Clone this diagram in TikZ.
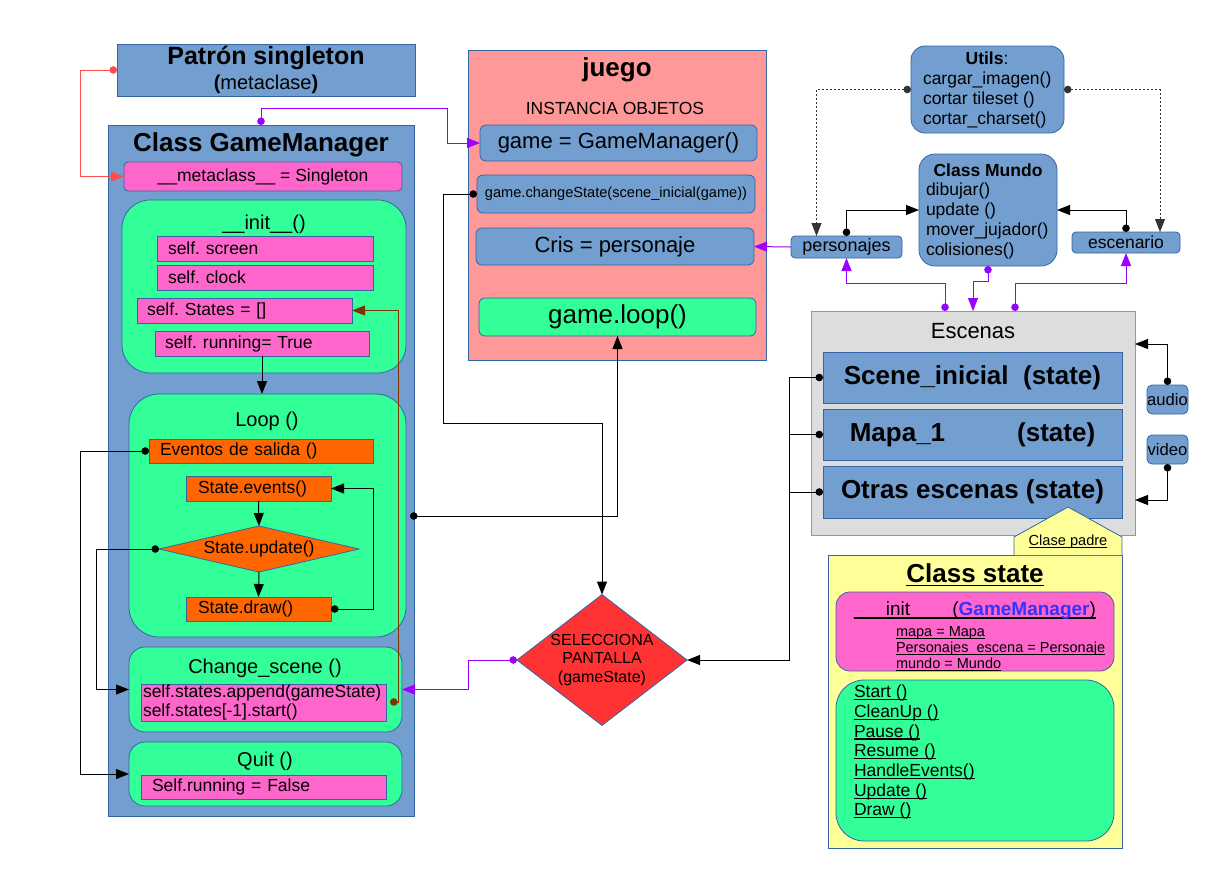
\documentclass[tikz,border=0pt]{standalone}
\usepackage{fontspec}
\setmainfont{Liberation Sans}
\usetikzlibrary{arrows.meta, positioning, shapes.geometric}

\definecolor{bluefill}{HTML}{729FCF}
\definecolor{bluedraw}{HTML}{3465A4}
\definecolor{mintfill}{HTML}{33FF99}
\definecolor{pinkfill}{HTML}{FF66CC}
\definecolor{orangefill}{HTML}{FF6600}
\definecolor{salmonfill}{HTML}{FF9999}
\definecolor{redfill}{HTML}{FF3333}
\definecolor{yellowfill}{HTML}{FFFF99}
\definecolor{grayfill}{HTML}{DDDDDD}
\definecolor{purpline}{HTML}{9900FF}
\definecolor{brownline}{HTML}{7F3300}
\definecolor{redline}{HTML}{FF4D4D}
\definecolor{gmblue}{HTML}{3333FF}

\newcommand\fsz[2]{\fontsize{#1}{#2}\selectfont}
\newsavebox\ulbox
\newcommand\ul[1]{\leavevmode\sbox\ulbox{#1}\rlap{\rule[-0.14em]{\wd\ulbox}{0.06em}}\usebox\ulbox}
\frenchspacing

\tikzset{
  box/.style={draw=bluedraw, line width=0.8pt, anchor=north west, inner sep=0pt, outer sep=0pt, align=center},
  bluebox/.style={box, fill=bluefill},
  pinkbox/.style={box, fill=pinkfill, align=left},
  orangebox/.style={box, fill=orangefill, align=left},
  salmonbox/.style={box, fill=salmonfill},
  redbox/.style={box, fill=redfill},
  yellowbox/.style={box, fill=yellowfill},
  graybox/.style={box, fill=grayfill, draw=bluefill},
  mintbox/.style={box, fill=mintfill, rounded corners=#1},
  mintbox/.default=25pt,
  plain/.style={inner sep=0pt, outer sep=0pt},
  body/.style={font={\fsz{17.5}{21}}},
  blackln/.style={draw=black, line width=1pt},
  purpln/.style={draw=purpline, line width=1pt},
  brownln/.style={draw=brownline, line width=1pt},
  redln/.style={draw=redline, line width=1pt},
  dotln/.style={draw=black!80, line width=0.9pt, dash pattern=on 2pt off 2pt},
  arr/.style={-{Triangle[length=13pt,width=10pt]}},
  dotarr/.style={{Circle[length=7.5pt]}-{Triangle[length=13pt,width=10pt]}},
  dotline/.style={{Circle[length=7.5pt]}-}
}

\begin{document}
\begin{tikzpicture}[x=1pt, y=-1pt]
  \useasboundingbox (0,0) rectangle (1230,870);

  % GameManager
  \node[bluebox, minimum width=298, minimum height=52, font={\fsz{20}{25}}] (singleton) at (117,44)
    {{\fsz{25}{25}\textbf{Patrón singleton}}\\\textbf{(}metaclase\textbf{)}};
  \node[bluebox, minimum width=306, minimum height=691] (gmgr) at (108,125) {};
  \node[plain, font={\fsz{26}{30}\bfseries}] (gmtitle) at (261,145) {Class GameManager};
  \node[pinkbox, body, rounded corners=4, align=center, minimum width=278, minimum height=29] (meta) at (124,162)
    {\_\_metaclass\_\_ = Singleton};

  \node[mintbox=28, minimum width=284, minimum height=173] (init) at (122,200) {};
  \node[plain, font={\fsz{20}{24}}] (inittitle) at (264,224) {\_\_init\_\_()};
  \node[pinkbox, body, inner xsep=11, text width=194, minimum height=25] (screen) at (157,236) {self. screen};
  \node[pinkbox, body, inner xsep=11, text width=194, minimum height=25] (clock) at (157,265) {self. clock};
  \node[pinkbox, body, inner xsep=10, text width=195, minimum height=25] (states) at (137,298) {self. States = []};
  \node[pinkbox, body, inner xsep=10, text width=194, minimum height=25] (running) at (155,331) {self. running= True};

  \node[mintbox=30, minimum width=277, minimum height=243] (loop) at (129,394) {};
  \node[plain, font={\fsz{20}{24}}] (looptitle) at (267,421) {Loop ()};
  \node[orangebox, body, inner xsep=11, text width=202, minimum height=24] (eventos) at (149,439) {Eventos de salida ()};
  \node[orangebox, body, inner xsep=12, text width=121, minimum height=25] (events) at (186,476) {State.events()};
  \node[orangebox, body, shape=diamond, anchor=center, align=center, aspect=4, minimum width=200, minimum height=46] (update) at (259,549)
    {State.update()};
  \node[orangebox, body, inner xsep=12, text width=121, minimum height=24] (stdraw) at (186,597) {State.draw()};

  \node[mintbox=16, minimum width=273, minimum height=85] (chg) at (129,647) {};
  \node[plain, font={\fsz{20}{24}}] (chgtitle) at (265,668) {Change\_scene ()};
  \node[pinkbox, font={\fsz{17.5}{19}}, inner xsep=2, text width=241, minimum height=37] (append) at (141,684)
    {self.states.append(gameState)\\self.states[-1].start()};

  \node[mintbox=16, minimum width=273, minimum height=64] (quit) at (129,742) {};
  \node[plain, font={\fsz{20}{24}}] (quittitle) at (265,761) {Quit ()};
  \node[pinkbox, body, inner xsep=11, text width=223, minimum height=24] (false) at (141,775) {Self.running = False};

  % juego
  \node[salmonbox, minimum width=298, minimum height=310] (juego) at (468,50) {};
  \node[plain, font={\fsz{26}{30}\bfseries}] (juegotitle) at (617,70) {juego};
  \node[plain, font={\fsz{17.5}{21}}] (instancia) at (615,108) {INSTANCIA OBJETOS};
  \node[bluebox, rounded corners=6, font={\fsz{22}{26}}, minimum width=277, minimum height=36] (gm) at (480,125) {game = GameManager()};
  \node[bluebox, rounded corners=6, font={\fsz{14.6}{17}}, minimum width=278, minimum height=38] (chs) at (477,175)
    {game.changeState(scene\_inicial(game))};
  \node[bluebox, rounded corners=6, font={\fsz{22}{26}}, minimum width=278, minimum height=37] (cris) at (476,228) {Cris = personaje};
  \node[mintbox=6, font={\fsz{26}{30}}, minimum width=277, minimum height=38] (gloop) at (479,298) {game.loop()};

  \node[redbox, shape=diamond, anchor=center, aspect=1.3, font={\fsz{16}{18.5}}, minimum width=163, minimum height=125] (sel) at (602,660)
    {SELECCIONA\\PANTALLA\\(gameState)};

  % utils y mundo
  \node[bluebox, rounded corners=14, minimum width=153, minimum height=87] (utils) at (911,46) {};
  \node[plain, body] (utilstitle) at (987,58) {\textbf{Utils}:};
  \node[plain, anchor=north west, align=left, font={\fsz{17.5}{20}}] (utilsbody) at (923,72)
    {cargar\_imagen()\\cortar tileset ()\\cortar\_charset()};
  \node[bluebox, rounded corners=16, minimum width=138, minimum height=112] (mundo) at (919,154) {};
  \node[plain, body] (mundotitle) at (988,170) {\textbf{Class Mundo}};
  \node[plain, anchor=north west, align=left, font={\fsz{17.5}{20}}] (mundobody) at (926,183)
    {dibujar()\\update ()\\mover\_jujador()\\colisiones()};
  \node[bluebox, rounded corners=4, font={\fsz{18}{21}}, minimum width=111, minimum height=22] (personajes) at (791,236) {personajes};
  \node[bluebox, rounded corners=4, font={\fsz{17.5}{21}}, minimum width=108, minimum height=21] (escenario) at (1072,232) {escenario};

  % escenas
  \node[graybox, minimum width=324, minimum height=224] (escenas) at (811,311) {};
  \node[plain, font={\fsz{22}{26}}] (escenastitle) at (973,331) {Escenas};
  \node[bluebox, font={\fsz{26}{30}\bfseries}, minimum width=299, minimum height=51] (scene) at (823,352) {Scene\_inicial~~(state)};
  \node[bluebox, font={\fsz{26}{30}\bfseries}, minimum width=299, minimum height=51] (mapa) at (823,409) {Mapa\_1\hspace{72pt}(state)};
  \node[bluebox, font={\fsz{26}{30}\bfseries}, minimum width=299, minimum height=52] (otras) at (823,466) {Otras escenas (state)};
  \node[bluebox, rounded corners=5, font={\fsz{16.6}{20}}, minimum width=41, minimum height=29] (audio) at (1147,385) {audio};
  \node[bluebox, rounded corners=5, font={\fsz{16.6}{20}}, minimum width=41, minimum height=29] (video) at (1147,435) {video};

  % class state
  \node[yellowbox, minimum width=294, minimum height=293] (state) at (828,555) {};
  \filldraw[fill=yellowfill, draw=bluedraw, line width=0.8pt] (1014,555) -- (1014,537) -- (1068,507) -- (1122,537) -- (1122,555);
  \node[plain, font={\fsz{14.6}{17}}] (padre) at (1068,542) {\ul{Clase padre}};
  \node[plain, font={\fsz{26}{30}\bfseries}] (statetitle) at (975,575) {\ul{Class state}};
  \node[pinkbox, rounded corners=14, minimum width=278, minimum height=79] (stinit) at (836,592) {};
  \node[plain, font={\fsz{19}{22}}] (stinittitle) at (975,611)
    {\ul{\_\_\_init\_\_\_\ \ (\textbf{\color{gmblue}GameManager})}};
  \node[plain, anchor=north west, align=left, font={\fsz{14.5}{16}}] (stinitbody) at (896,627)
    {\ul{mapa = Mapa}\\\ul{Personajes\_escena = Personaje}\\\ul{mundo = Mundo}};
  \node[mintbox=28, minimum width=278, minimum height=161] (methods) at (836,680) {};
  \node[plain, anchor=north west, align=left, font={\fsz{17.5}{19.7}}] (methodsbody) at (854,685)
    {\ul{Start ()}\\\ul{CleanUp ()}\\\ul{Pause ()}\\\ul{Resume ()}\\
     \ul{HandleEvents()}\\\ul{Update ()}\\\ul{Draw ()}};

  % conectores
  \draw[redln, dotarr] (singleton.west) -- ++(-37,0) |- (meta.west);
  \draw[purpln, dotarr] (gmgr.north) -- ++(0,-17) -| ([xshift=-33pt]gm.west) -- (gm.west);
  \draw[blackln, dotarr] (chs.west) -- ++(-34,0) -- ++(0,229) -| (sel.north);
  \coordinate (gmout) at (410,516);
  \draw[blackln, dotarr] (gmout) -| (gloop.south);
  \coordinate (chgout) at (390,702);
  \draw[brownln, dotarr] (chgout) -- ++(8,0) |- (states.east);
  \draw[blackln, dotarr] (eventos.west) -- ++(-69,0) |- (quit.west);
  \draw[blackln, dotarr] (update.west) -- ++(-63,0) |- (chg.west);
  \draw[blackln, arr] (events.south) -- (update.north);
  \draw[blackln, arr] (update.south) -- (stdraw.north);
  \draw[blackln, dotarr] (stdraw.east) -- ++(42,0) |- (events.east);
  \draw[blackln, arr] (running.south) -- (running.south |- loop.north);
  \draw[purpln, dotarr] (sel.west) -- ++(-48,0) |- (chg.east);
  \draw[blackln, dotarr] (scene.west) -- ++(-34,0) |- (sel.east);
  \draw[blackln, dotline] (mapa.west) -- ++(-34,0);
  \draw[blackln, dotline] (otras.west) -- ++(-34,0);
  \draw[dotln, dotarr] (utils.west) -| ([xshift=-30pt]personajes.north);
  \draw[dotln, dotarr] (utils.east) -| ([xshift=34pt]escenario.north);
  \draw[blackln, dotarr] (personajes.north) |- (mundo.west);
  \draw[blackln, dotarr] (escenario.north) |- (mundo.east);
  \draw[purpln, arr] (personajes.west) -- (cris.east);
  \draw[purpln, dotarr] ([xshift=-28pt]escenas.north) -- ++(0,-28) -| (personajes.south);
  \draw[purpln, dotarr] ([xshift=42pt]escenas.north) -- ++(0,-28) -| (escenario.south);
  \draw[purpln, dotarr] (mundo.south) -- ++(0,15) -| (escenas.north);
  \draw[blackln, dotarr] (audio.north) |- ([yshift=79pt]escenas.east);
  \draw[blackln, dotarr] (video.south) |- ([yshift=-77pt]escenas.east);
\end{tikzpicture}
\end{document}
